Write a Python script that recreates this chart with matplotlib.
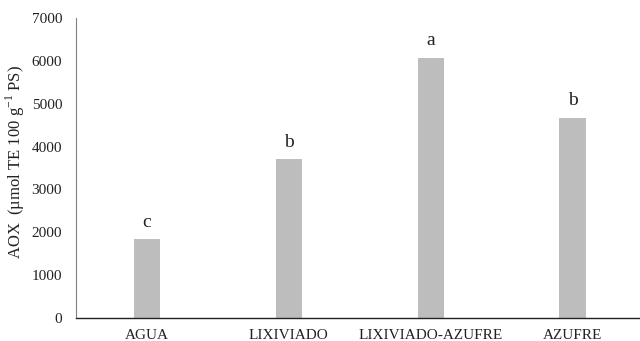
import matplotlib
matplotlib.use("Agg")
import matplotlib.pyplot as plt

treatments = ["AGUA", "LIXIVIADO", "LIXIVIADO-AZUFRE", "AZUFRE"]
aox = [1845, 3700, 6075, 4675]
letters = ["c", "b", "a", "b"]
y_ticks = [0, 1000, 2000, 3000, 4000, 5000, 6000, 7000]

plt.rcParams["font.family"] = ["Liberation Serif", "DejaVu Serif"]
plt.rcParams["mathtext.fontset"] = "custom"
plt.rcParams["mathtext.rm"] = "Liberation Serif"

fig = plt.figure(figsize=(6.4, 3.41), dpi=100)
ax = fig.add_axes([76 / 640, 23 / 341, 566 / 640, 300 / 341])

x = list(range(len(treatments)))
bars = ax.bar(x, aox, width=0.185, color="#bdbdbd")
for rect, letter in zip(bars, letters):
    ax.annotate(letter, (rect.get_x() + rect.get_width() / 2, rect.get_height()),
                xytext=(0, 6), textcoords="offset points",
                ha="center", va="bottom", fontsize=14, color="#222222")

ax.set_xlim(-0.5, 3.49)
ax.set_ylim(0, 7000)
ax.set_yticks(y_ticks)
ax.set_xticks(x)
ax.set_xticklabels(treatments)
ax.tick_params(axis="both", length=0, labelsize=11, colors="#222222")
ax.tick_params(axis="x", pad=8)
ax.tick_params(axis="y", pad=10)
ax.set_ylabel("AOX  (µmol TE 100 g$^{\\mathrm{-1}}$ PS)", fontsize=12, color="#222222")
ax.yaxis.set_label_coords(-0.087, 0.52)

for side in ("top", "right"):
    ax.spines[side].set_visible(False)
ax.spines["left"].set_color("#808080")
ax.spines["bottom"].set_color("#222222")
ax.spines["bottom"].set_linewidth(1.0)

fig.savefig("out.png", dpi=100)
